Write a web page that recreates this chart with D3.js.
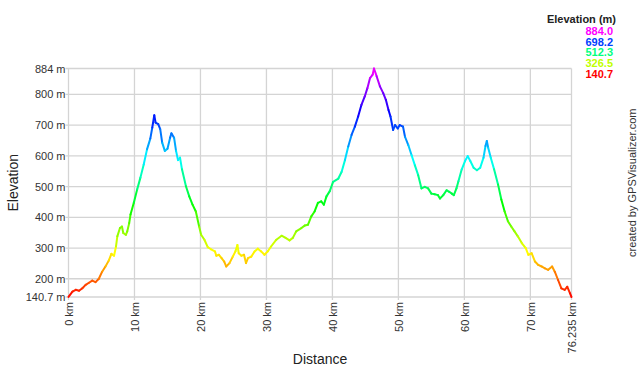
<!DOCTYPE html>
<html>
<head>
<meta charset="utf-8">
<script src="https://cdn.jsdelivr.net/npm/d3@7"></script>
<style>
    body { margin: 0; background: #fff; }
    svg { display: block; font-family: 'Liberation Sans', Arial, sans-serif; }
</style>
</head>
<body>
<div id="chart"></div>
<script>
// Track profile (km, m)
const distance = [0, 0.6, 1.1, 1.6, 2.1, 2.6, 3.1, 3.6, 4.1, 4.6, 5.1, 5.6, 6.1, 6.5, 6.9, 7.2, 7.4, 7.8, 8.1, 8.3,
    8.7, 8.9, 9.2, 9.4, 9.9, 10.4, 10.9, 11.4, 11.9, 12.4, 12.7, 13.0, 13.2, 13.6, 13.9, 14.2, 14.6, 15.0, 15.4, 15.6,
    16.0, 16.3, 16.6, 16.9, 17.2, 17.8, 18.3, 18.8, 19.3, 19.8,
    20.1, 20.6, 21.1, 21.6, 22.2, 22.4, 22.8, 23.2, 23.6, 23.9, 24.4, 24.9, 25.3, 25.6, 25.8, 26.2, 26.6, 26.9, 27.2, 27.7,
    28.2, 28.7, 29.2, 29.7, 30.2, 30.7, 31.5, 32.3, 32.9, 33.5, 34.0, 34.5, 35.3, 35.8, 36.3, 36.8, 37.3, 37.8, 38.3, 38.7,
    39.1, 39.6,
    40.1, 40.9, 41.4, 41.9, 42.4, 42.9, 43.4, 43.9, 44.4, 44.9, 45.3, 45.7, 46.1, 46.3, 46.7, 47.2, 47.7, 48.1, 48.5, 48.8,
    49.2, 49.5, 49.9, 50.2, 50.7, 51.0, 51.5, 52.0, 52.5, 53.0, 53.5, 54.0, 54.5, 55.0, 55.5, 56.0, 56.3, 56.8, 57.3, 57.7,
    58.1, 58.4, 58.8,
    59.1, 59.6, 60.1, 60.5, 60.9, 61.4, 61.9, 62.4, 62.9, 63.2, 63.4, 63.6, 64.0, 64.5, 65.1, 65.6, 66.1, 66.6, 67.1, 67.6,
    68.1, 68.7, 69.3, 69.7, 70.2, 70.7, 71.2, 71.7, 72.2, 72.7, 73.3, 73.7, 74.2, 74.7, 75.2, 75.6, 76.0, 76.235];

const elevation = [141, 158, 164, 161, 169, 180, 187, 194, 189, 200, 223, 240, 259, 281, 275, 305, 338, 365, 370, 349,
    343, 354, 381, 409, 447, 490, 529, 572, 621, 656, 692, 732, 708, 703, 687, 643, 616, 623, 659, 673,
    659, 616, 586, 594, 556, 501, 468, 441, 419, 370,
    343, 327, 303, 296, 289, 275, 278, 267, 256, 240, 251, 272, 289, 310, 283, 275, 278, 251, 267, 272,
    289, 298, 289, 278, 289, 305, 327, 340, 333, 325, 333, 354, 365, 373, 376, 403, 419, 447, 452, 441,
    468, 485,
    515, 526, 548, 586, 630, 668, 695, 728, 766, 793, 820, 853, 864, 884, 859, 826, 804, 782, 749, 728,
    684, 700, 689, 700, 695, 662, 635, 602, 569, 537, 494, 499, 494, 477, 475, 472, 461, 472, 488, 483,
    477, 472, 494,
    517, 556, 583, 599, 583, 561, 553, 561, 594, 632, 648, 627, 594, 556, 507, 458, 419, 387, 370, 354,
    338, 316, 300, 278, 283, 256, 245, 240, 234, 229, 240, 223, 196, 169, 164, 174, 153, 140.7];

const minElev = 140.7;
const maxElev = 884.0;
const totalDist = 76.235;

const xTicks = [0, 10, 20, 30, 40, 50, 60, 70, 76.235];
const yTicks = [140.7, 200, 300, 400, 500, 600, 700, 800, 884];
const legendValues = [884.0, 698.2, 512.3, 326.5, 140.7];

const chart = {
    totalWidth: 640,
    totalHeight: 366,
    margin: {
        top: 68.5,
        bottom: 69,
        left: 68.5,
        right: 68.5
    },
};
chart.width = chart.totalWidth - (chart.margin.left + chart.margin.right);
chart.height = chart.totalHeight - (chart.margin.top + chart.margin.bottom);

const svg = d3.select('#chart')
    .append('svg')
    .attr('width', chart.totalWidth)
    .attr('height', chart.totalHeight);

const xScale = d3.scaleLinear()
    .domain([0, totalDist])
    .range([0, chart.width]);

const yScale = d3.scaleLinear()
    .domain([minElev, maxElev])
    .range([chart.height, 0]);

// elevation -> hue, red at the bottom up to magenta at the top
const colorOf = e => d3.hsl(300 * (e - minElev) / (maxElev - minElev), 1, 0.5).toString();

const plot = svg.append('g')
    .attr('transform', `translate(${chart.margin.left}, ${chart.margin.top})`);

// grid
plot.append('g')
    .selectAll('line.h')
    .data(yTicks)
    .enter().append('line')
    .attr('x1', -3).attr('x2', chart.width)
    .attr('y1', d => yScale(d)).attr('y2', d => yScale(d))
    .attr('stroke', '#d4d4d4')
    .attr('stroke-width', 1.3);

plot.append('g')
    .selectAll('line.v')
    .data(xTicks)
    .enter().append('line')
    .attr('x1', d => xScale(d)).attr('x2', d => xScale(d))
    .attr('y1', 0).attr('y2', chart.height + 3)
    .attr('stroke', '#d4d4d4')
    .attr('stroke-width', 1.3);

// Y-axis labels
const yAxis = d3.axisLeft(yScale)
    .tickValues(yTicks)
    .tickSize(3)
    .tickPadding(0)
    .tickFormat(d => (d === minElev ? d3.format('.1f')(d) : d3.format('d')(d)) + ' m');

plot.append('g')
    .classed('y-axis', true)
    .call(yAxis)
    .call(g => g.select('.domain').remove())
    .call(g => g.selectAll('.tick line').remove())
    .call(g => g.selectAll('text')
        .attr('font-family', null)
        .attr('font-size', 11)
        .attr('fill', '#333'));

// X-axis labels, turned on their side
const xAxis = d3.axisBottom(xScale)
    .tickValues(xTicks)
    .tickFormat(d => (d === totalDist ? '76.235' : d) + ' km');

plot.append('g')
    .classed('x-axis', true)
    .attr('transform', `translate(0, ${chart.height})`)
    .call(xAxis)
    .call(g => g.select('.domain').remove())
    .call(g => g.selectAll('.tick line').remove())
    .call(g => g.selectAll('text')
        .attr('font-family', null)
        .attr('font-size', 11)
        .attr('fill', '#333')
        .attr('text-anchor', 'end')
        .attr('transform', 'rotate(-90)')
        .attr('x', -5)
        .attr('y', 0)
        .attr('dy', '0.35em'));

// profile, one short segment per step so the colour can follow the height
const points = distance.map((d, i) => [d, elevation[i]]);
const segments = d3.pairs(points);

plot.append('g')
    .classed('profile', true)
    .selectAll('line')
    .data(segments)
    .enter().append('line')
    .attr('x1', d => xScale(d[0][0]))
    .attr('y1', d => yScale(d[0][1]))
    .attr('x2', d => xScale(d[1][0]))
    .attr('y2', d => yScale(d[1][1]))
    .attr('stroke', d => colorOf((d[0][1] + d[1][1]) / 2))
    .attr('stroke-width', 2)
    .attr('stroke-linecap', 'round');

// titles
svg.append('text')
    .attr('x', chart.margin.left + chart.width / 2)
    .attr('y', 364)
    .attr('text-anchor', 'middle')
    .attr('font-size', 14)
    .attr('fill', '#222')
    .text('Distance');

svg.append('text')
    .attr('transform', `translate(18, ${chart.margin.top + chart.height / 2}) rotate(-90)`)
    .attr('text-anchor', 'middle')
    .attr('font-size', 14)
    .attr('fill', '#222')
    .text('Elevation');

svg.append('text')
    .attr('transform', `translate(636, ${chart.margin.top + chart.height / 2}) rotate(-90)`)
    .attr('text-anchor', 'middle')
    .attr('font-size', 11)
    .attr('fill', '#333')
    .text('created by GPSVisualizer.com');

// legend
const legend = svg.append('g')
    .attr('font-weight', 'bold')
    .attr('font-size', 11)
    .attr('text-anchor', 'end');

legend.append('text')
    .attr('x', 616)
    .attr('y', 23)
    .attr('fill', '#222')
    .text('Elevation (m)');

legend.selectAll('text.val')
    .data(legendValues)
    .enter().append('text')
    .attr('x', 613)
    .attr('y', (d, i) => 35 + i * 10.7)
    .attr('fill', d => colorOf(d))
    .text(d => d3.format('.1f')(d));
</script>
</body>
</html>
